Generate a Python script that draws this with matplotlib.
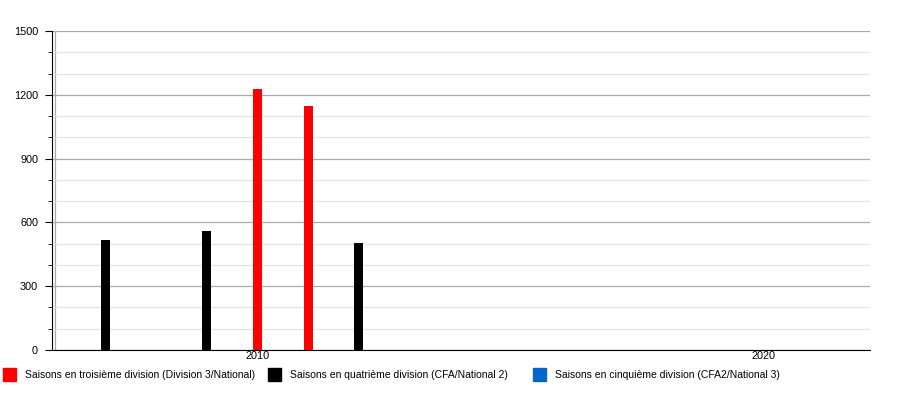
import matplotlib.pyplot as plt
from matplotlib.patches import Rectangle
from matplotlib.ticker import MultipleLocator

plt.rcParams['font.family'] = ['Liberation Sans', 'DejaVu Sans']

# saisons et affluences moyennes
annees_d3 = [2010, 2011]
affluence_d3 = [1228, 1145]
annees_d4 = [2007, 2009, 2012]
affluence_d4 = [516, 558, 502]
annees_d5 = []
affluence_d5 = []

legende = ["Saisons en troisième division (Division 3/National)",
           "Saisons en quatrième division (CFA/National 2)",
           "Saisons en cinquième division (CFA2/National 3)"]
couleurs = ["#ff0000", "#000000", "#0066cc"]

fig = plt.figure(figsize=(9, 4), dpi=100)
ax = fig.add_axes([52/900, 0.125, (870-52)/900, 0.7975])

w = 0.18
ax.bar(annees_d3, affluence_d3, width=w, color=couleurs[0], zorder=3)
ax.bar(annees_d4, affluence_d4, width=w, color=couleurs[1], zorder=3)
ax.bar(annees_d5, affluence_d5, width=w, color=couleurs[2], zorder=3)

ax.set_xlim(2005.94, 2022.1)
ax.set_ylim(0, 1500)
ax.set_xticks([2010, 2020])
ax.set_yticks([0, 300, 600, 900, 1200, 1500])
ax.yaxis.set_minor_locator(MultipleLocator(100))
ax.grid(axis='y', which='major', color='#aaaaaa', lw=0.9, zorder=0)
ax.grid(axis='y', which='minor', color='#e4e4e4', lw=0.9, zorder=0)
ax.axvline(2006.0, color='#aaaaaa', lw=0.9, zorder=1)

for s in ['top', 'right']:
    ax.spines[s].set_visible(False)
ax.tick_params(axis='y', which='major', length=5, labelsize=7.8, pad=5)
ax.tick_params(axis='y', which='minor', length=3)
ax.tick_params(axis='x', length=0, labelsize=7.8, pad=1)

# légende placée à la main, colonnes de largeur fixe
for i, (c, txt) in enumerate(zip(couleurs, legende)):
    x0 = (3 + 265 * i) / 900
    fig.patches.append(Rectangle((x0, 1 - 381/400), 13/900, 13/400,
                                 transform=fig.transFigure, color=c))
    fig.text(x0 + 22/900, 1 - 375/400, txt, fontsize=7.5, va='center')

fig.savefig("out.png", dpi=100)
